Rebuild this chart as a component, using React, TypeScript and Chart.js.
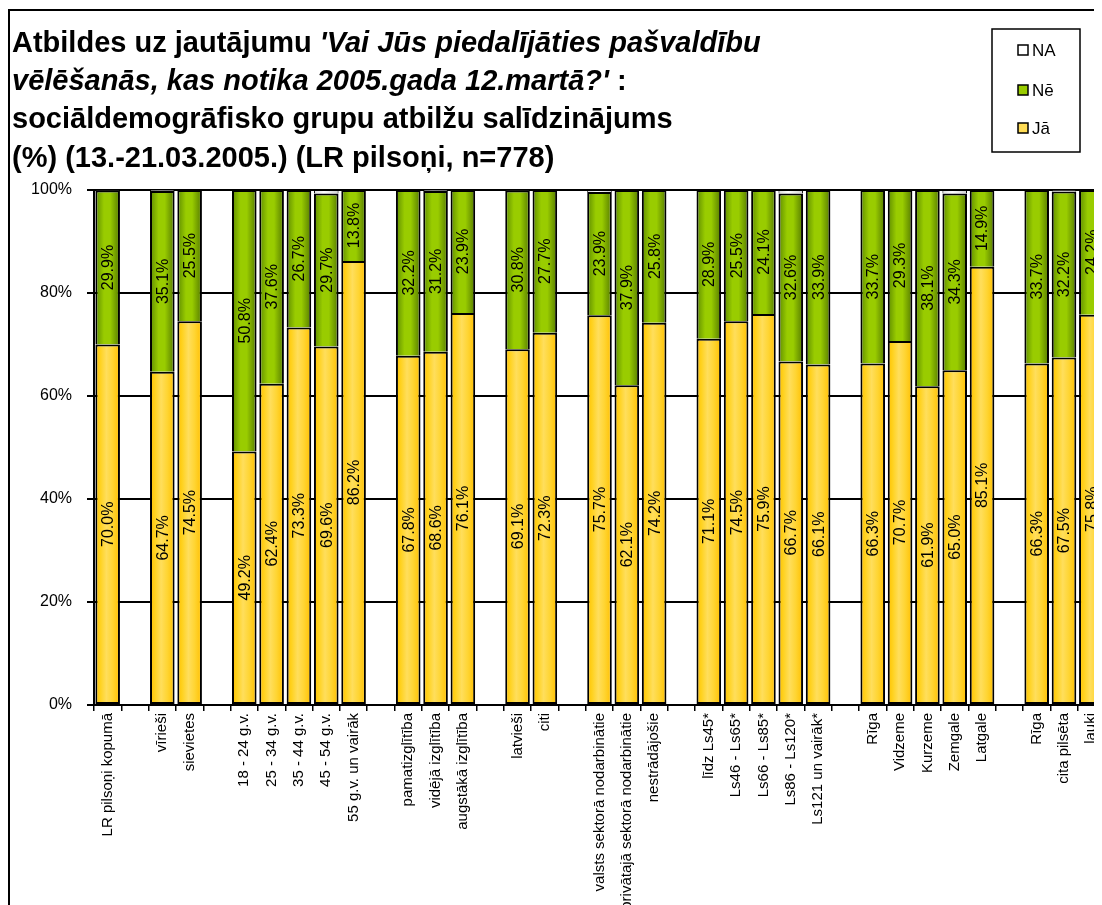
import React, { useEffect, useRef } from "react";
import { Chart, registerables } from "chart.js";

Chart.register(...registerables);

// ---------------- data ----------------
const categories: string[] = [
  "LR pilsoņi kopumā", "",
  "vīrieši", "sievietes", "",
  "18 - 24 g.v.", "25 - 34 g.v.", "35 - 44 g.v.", "45 - 54 g.v.", "55 g.v. un vairāk", "",
  "pamatizglītība", "vidējā izglītība", "augstākā izglītība", "",
  "latvieši", "citi", "",
  "valsts sektorā nodarbinātie", "privātajā sektorā nodarbinātie", "nestrādājošie", "",
  "līdz Ls45*", "Ls46 - Ls65*", "Ls66 - Ls85*", "Ls86 - Ls120*", "Ls121 un vairāk*", "",
  "Rīga", "Vidzeme", "Kurzeme", "Zemgale", "Latgale", "",
  "Rīga", "cita pilsēta", "lauki",
];

const jaValues: (number | null)[] = [
  70.0, null,
  64.7, 74.5, null,
  49.2, 62.4, 73.3, 69.6, 86.2, null,
  67.8, 68.6, 76.1, null,
  69.1, 72.3, null,
  75.7, 62.1, 74.2, null,
  71.1, 74.5, 75.9, 66.7, 66.1, null,
  66.3, 70.7, 61.9, 65.0, 85.1, null,
  66.3, 67.5, 75.8,
];

const neValues: (number | null)[] = [
  29.9, null,
  35.1, 25.5, null,
  50.8, 37.6, 26.7, 29.7, 13.8, null,
  32.2, 31.2, 23.9, null,
  30.8, 27.7, null,
  23.9, 37.9, 25.8, null,
  28.9, 25.5, 24.1, 32.6, 33.9, null,
  33.7, 29.3, 38.1, 34.3, 14.9, null,
  33.7, 32.2, 24.2,
];

const naValues: (number | null)[] = [
  0.1, null,
  0.2, 0, null,
  0, 0, 0, 0.7, 0, null,
  0, 0.2, 0, null,
  0.1, 0, null,
  0.4, 0, 0, null,
  0, 0, 0, 0.7, 0, null,
  0, 0, 0, 0.7, 0, null,
  0, 0.3, 0,
];

const seriesNames = ["Jā", "Nē", "NA"];
const legendOrder = ["NA", "Nē", "Jā"];
const yTickValues = [0, 20, 40, 60, 80, 100];

const titleLines: { text: string; italic: boolean }[][] = [
  [
    { text: "Atbildes uz jautājumu ", italic: false },
    { text: "'Vai Jūs piedalījāties pašvaldību", italic: true },
  ],
  [
    { text: "vēlēšanās, kas notika 2005.gada 12.martā?'", italic: true },
    { text: " :", italic: false },
  ],
  [{ text: "sociāldemogrāfisko grupu atbilžu salīdzinājums", italic: false }],
  [{ text: "(%) (13.-21.03.2005.) (LR pilsoņi, n=778)", italic: false }],
];

// ---------------- styling ----------------
const FONT = "'Liberation Sans', Arial, Helvetica, sans-serif";
const CANVAS_W = 1110;
const CANVAS_H = 910;
const BAR_PCT = 0.9;

const yellowStops: [number, string][] = [
  [0, "#ffc000"],
  [0.2, "#ffd21f"],
  [0.45, "#ffde5c"],
  [0.7, "#ffd533"],
  [1, "#ffbf00"],
];
const greenStops: [number, string][] = [
  [0, "#5e8c00"],
  [0.35, "#99cc00"],
  [0.6, "#99cc00"],
  [1, "#557a00"],
];
const naStops: [number, string][] = [
  [0, "#d9d9d9"],
  [0.4, "#ffffff"],
  [1, "#cfcfcf"],
];
const legendColors: Record<string, string> = {
  NA: "#ffffff",
  "Nē": "#99cc00",
  "Jā": "#ffdc55",
};

function gradientFill(stops: [number, string][]) {
  return (ctx: any) => {
    if (ctx.type !== "data") return stops[1][1];
    const chart = ctx.chart;
    const xs = chart.scales && chart.scales.x;
    if (!xs || !chart.chartArea) return stops[1][1];
    const cx = xs.getPixelForValue(ctx.dataIndex);
    const w = (xs.width / categories.length) * BAR_PCT;
    const g = chart.ctx.createLinearGradient(cx - w / 2, 0, cx + w / 2, 0);
    stops.forEach(([o, c]) => g.addColorStop(o, c));
    return g;
  };
}

const decorPlugin = {
  id: "decor",
  afterDatasetsDraw(chart: any) {
    const ctx: CanvasRenderingContext2D = chart.ctx;
    ctx.save();
    ctx.fillStyle = "#000";
    ctx.font = `16px ${FONT}`;
    ctx.textAlign = "center";
    ctx.textBaseline = "middle";
    [0, 1].forEach((di) => {
      const meta = chart.getDatasetMeta(di);
      const data = chart.data.datasets[di].data;
      meta.data.forEach((el: any, i: number) => {
        const v = data[i];
        if (v == null || v < 3) return;
        const p = el.getProps(["x", "y", "base"], true);
        const cy = (p.y + p.base) / 2;
        ctx.save();
        ctx.translate(p.x, cy);
        ctx.rotate(-Math.PI / 2);
        ctx.fillText(v.toFixed(1) + "%", 0, 1);
        ctx.restore();
      });
    });
    ctx.restore();
  },
  afterDraw(chart: any) {
    const ctx: CanvasRenderingContext2D = chart.ctx;
    ctx.save();
    // outer frame
    ctx.strokeStyle = "#000";
    ctx.lineWidth = 2;
    ctx.strokeRect(1, 2, CANVAS_W + 10, CANVAS_H + 10);

    // title
    ctx.fillStyle = "#000";
    ctx.textAlign = "left";
    ctx.textBaseline = "alphabetic";
    const baselines = [44, 82, 120, 159];
    titleLines.forEach((segs, li) => {
      let x = 4;
      segs.forEach((s) => {
        ctx.font = `${s.italic ? "italic " : ""}bold 29px ${FONT}`;
        ctx.fillText(s.text, x, baselines[li]);
        x += ctx.measureText(s.text).width;
      });
    });

    // legend
    const bx = 984, by = 21, bw = 88, bh = 123;
    ctx.lineWidth = 1.5;
    ctx.strokeRect(bx, by, bw, bh);
    ctx.font = `17px ${FONT}`;
    ctx.textBaseline = "middle";
    const ys = [42, 82, 120];
    legendOrder.forEach((name, i) => {
      const y = ys[i];
      ctx.fillStyle = legendColors[name];
      ctx.fillRect(1010, y - 5, 10, 10);
      ctx.lineWidth = 1.5;
      ctx.strokeStyle = "#000";
      ctx.strokeRect(1010, y - 5, 10, 10);
      ctx.fillStyle = "#000";
      ctx.fillText(name, 1024, y + 1);
    });
    ctx.restore();
  },
};

export default function App() {
  const ref = useRef<HTMLCanvasElement | null>(null);

  useEffect(() => {
    if (!ref.current) return;
    const chart = new Chart(ref.current, {
      type: "bar",
      data: {
        labels: categories,
        datasets: [
          {
            label: seriesNames[0],
            data: jaValues,
            backgroundColor: gradientFill(yellowStops),
            borderColor: "#000",
            borderWidth: 2,
            borderSkipped: false,
            barPercentage: BAR_PCT,
            categoryPercentage: 1,
          },
          {
            label: seriesNames[1],
            data: neValues,
            backgroundColor: gradientFill(greenStops),
            borderColor: "#000",
            borderWidth: 2,
            borderSkipped: "start",
            barPercentage: BAR_PCT,
            categoryPercentage: 1,
          },
          {
            label: seriesNames[2],
            data: naValues,
            backgroundColor: gradientFill(naStops),
            borderColor: "#000",
            borderWidth: 1,
            borderSkipped: "start",
            barPercentage: BAR_PCT,
            categoryPercentage: 1,
          },
        ],
      },
      options: {
        responsive: false,
        animation: false,
        maintainAspectRatio: false,
        layout: { padding: { top: 182, right: 13, left: 0, bottom: 0 } },
        plugins: {
          legend: { display: false },
          title: { display: false },
          tooltip: { enabled: false },
        },
        scales: {
          x: {
            stacked: true,
            offset: true,
            grid: {
              offset: true,
              drawOnChartArea: false,
              drawTicks: true,
              tickLength: 6,
              color: "#000",
              lineWidth: 1.5,
            },
            border: { display: true, color: "#000", width: 2 },
            ticks: {
              autoSkip: false,
              maxRotation: 90,
              minRotation: 90,
              padding: 2,
              color: "#000",
              font: { family: FONT, size: 15 },
            },
            afterFit(scale: any) {
              scale.height = CANVAS_H - 697;
            },
          },
          y: {
            stacked: true,
            min: 0,
            max: 100,
            afterBuildTicks(scale: any) {
              scale.ticks = yTickValues.map((v) => ({ value: v }));
            },
            grid: {
              color: "#000",
              lineWidth: 2,
              drawTicks: true,
              tickLength: 7,
            },
            border: { display: true, color: "#000", width: 2 },
            ticks: {
              padding: 15,
              color: "#000",
              font: { family: FONT, size: 16 },
              callback: (v: any) => `${v}%`,
            },
            afterFit(scale: any) {
              scale.width = 86;
            },
          },
        },
      },
      plugins: [decorPlugin],
    });
    return () => chart.destroy();
  }, []);

  return (
    <div style={{ width: 1094, height: 897, overflow: "hidden", position: "relative", background: "#fff" }}>
      <canvas ref={ref} width={CANVAS_W} height={CANVAS_H} style={{ display: "block", width: CANVAS_W, height: CANVAS_H }} />
    </div>
  );
}
